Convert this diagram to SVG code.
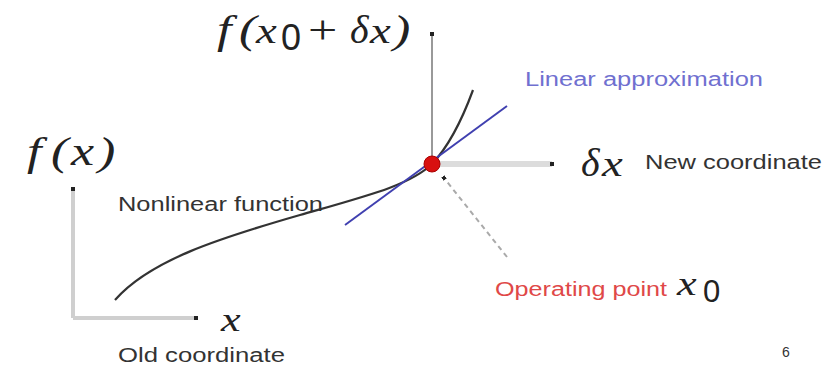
<svg xmlns="http://www.w3.org/2000/svg" width="840" height="366" viewBox="0 0 840 366">
<style>
.math{font-family:"Liberation Serif","DejaVu Serif",serif;font-style:italic;fill:#222}
.up{font-family:"Liberation Sans",Arial,sans-serif;font-style:normal;fill:#222}
.lbl{font-family:"Liberation Sans",Arial,sans-serif;font-size:20px;fill:#333}
.axis{stroke:#cfcfcf;stroke-width:4;fill:none}
.axisn{stroke:#999;stroke-width:2;fill:none}
</style>
<defs>
<marker id="tip" viewBox="0 0 4 4" refX="2" refY="2" markerWidth="4" markerHeight="4" markerUnits="userSpaceOnUse" orient="auto">
<rect x="0" y="0" width="4" height="4" fill="#222"/>
</marker>
</defs>
<rect width="840" height="366" fill="#fff"/>
<g id="connectors">
<path class="axis" d="M73,318 V189" marker-end="url(#tip)"/>
<path class="axis" d="M73,318 H196" marker-end="url(#tip)"/>
<path class="axisn" d="M432,164 V34" marker-end="url(#tip)"/>
<path stroke="#dcdcdc" stroke-width="6" fill="none" d="M432,164 H552" marker-end="url(#tip)"/>
<path stroke="#aaa" stroke-width="2" stroke-dasharray="5,4" fill="none" d="M507,257 L444,178" marker-end="url(#tip)"/>
</g>
<g id="curve">
<path d="M115,300 C150,260 220,238 300,215 C370,195 410,185 432,164 C450,145 462,120 473,90" stroke="#333" stroke-width="2.2" fill="none"/>
</g>
<g id="linear">
<line x1="345" y1="225" x2="507" y2="106" stroke="#4040b0" stroke-width="2"/>
</g>
<g id="point">
<circle cx="432" cy="164" r="8" fill="#d81010" stroke="#a00" stroke-width="1"/>
</g>
<g id="labels">
<g transform="translate(0,165) scale(1.3,1)">
<text class="math" font-size="40"><tspan x="20.8">f</tspan><tspan x="39.2">(</tspan><tspan x="54.6">x</tspan><tspan x="75.4">)</tspan></text>
</g>
<g transform="translate(0,331) scale(1.3,1)">
<text class="math" x="170" font-size="34">x</text>
</g>
<text class="lbl" x="118" y="362" textLength="167" lengthAdjust="spacingAndGlyphs">Old coordinate</text>
<text class="lbl" x="118" y="211" textLength="205" lengthAdjust="spacingAndGlyphs">Nonlinear function</text>
<g transform="translate(0,43) scale(1.3,1)">
<text class="math" font-size="40"><tspan x="166.9">f</tspan><tspan x="183.8">(</tspan><tspan x="196.9" font-size="36">x</tspan><tspan x="236.9" style="font-style:normal">+</tspan><tspan x="284.6" font-size="36">x</tspan><tspan x="302.3">)</tspan></text>
</g>
<text class="up" x="281" y="50" font-size="36">0</text>
<text class="math" x="350" y="43" font-size="40">δ</text>
<text class="lbl" x="525" y="86" textLength="238" lengthAdjust="spacingAndGlyphs" style="fill:#7070d0">Linear approximation</text>
<text class="math" x="581" y="176" font-size="40">δ</text>
<g transform="translate(0,176) scale(1.3,1)">
<text class="math" x="463" font-size="36">x</text>
</g>
<text class="lbl" x="645" y="169" textLength="177" lengthAdjust="spacingAndGlyphs">New coordinate</text>
<text class="lbl" x="495" y="296" textLength="172" lengthAdjust="spacingAndGlyphs" style="fill:#e04848">Operating point</text>
<g transform="translate(0,295) scale(1.3,1)">
<text class="math" x="520.8" font-size="34">x</text>
</g>
<text class="up" x="703" y="302" font-size="31">0</text>
<text class="lbl" x="782" y="357" style="font-size:14px">6</text>
</g>
</svg>
